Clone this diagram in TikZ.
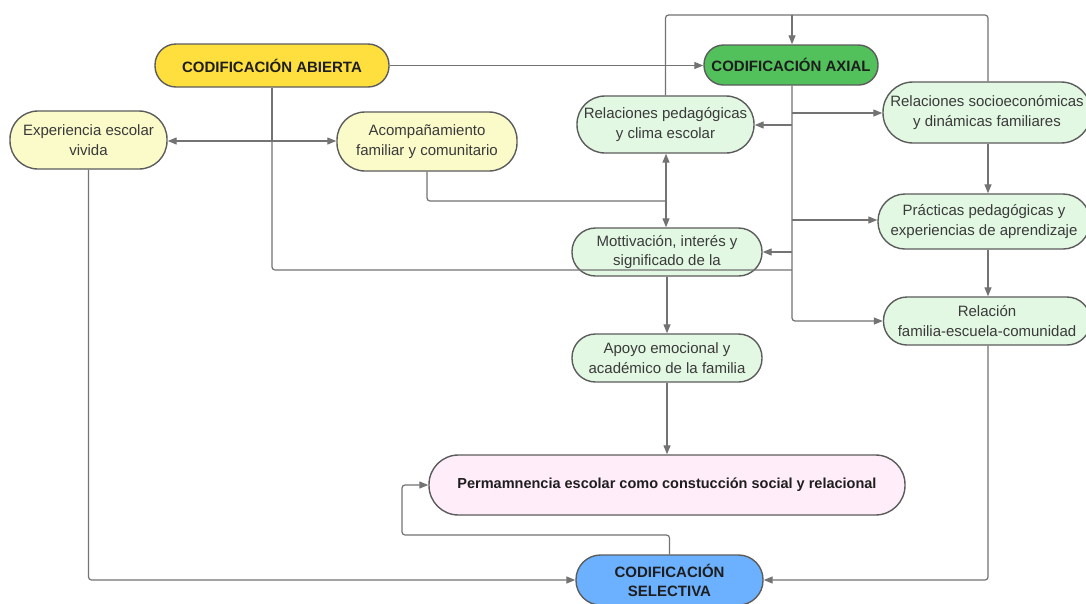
\documentclass[tikz,border=0pt]{standalone}
\usepackage{fontspec}
\setmainfont{Liberation Sans}
\usetikzlibrary{arrows.meta}
\definecolor{bord}{HTML}{5C5C5C}
\definecolor{lin}{HTML}{737373}
\definecolor{txt}{HTML}{3A3A3A}
\definecolor{txtb}{HTML}{1E1E1E}
\definecolor{cyel}{HTML}{FFDF3D}
\definecolor{cgrn}{HTML}{52C15B}
\definecolor{lyel}{HTML}{FBFAC9}
\definecolor{lgrn}{HTML}{E2F8E3}
\definecolor{cpink}{HTML}{FFEEFA}
\definecolor{cblu}{HTML}{6CB1FF}
\begin{document}
\begin{tikzpicture}[x=1pt,y=-1pt,
  pill/.style n args={3}{draw=bord, line width=1.4pt, rectangle, rounded corners=#3,
    minimum width=#1, minimum height=#2, inner sep=0pt, align=center,
    font=\fontsize{15}{19.5}\selectfont, text=txt},
  boldtxt/.style={font=\fontsize{15}{19}\selectfont\bfseries, text=txtb},
  con/.style={draw=lin, line width=1.2pt, rounded corners=3pt},
  arr/.style={con, -{Triangle[length=9pt,width=7pt]}}]
\useasboundingbox (0,0) rectangle (1086,603);
\fill[white] (0,0) rectangle (1086,603);

\node[pill={234pt}{43pt}{21pt}, boldtxt, fill=cyel] (ab) at (272,65.5) {CODIFICACIÓN ABIERTA};
\node[pill={174pt}{40pt}{19.5pt}, boldtxt, fill=cgrn] (ax) at (791,65) {CODIFICACIÓN AXIAL};
\node[pill={157pt}{58pt}{28pt}, fill=lyel] (exp) at (88.5,140) {Experiencia escolar\\vivida};
\node[pill={180pt}{59pt}{28pt}, fill=lyel] (aco) at (427,141.5) {Acompañamiento\\familiar y comunitario};
\node[pill={177pt}{57pt}{28pt}, fill=lgrn] (rp) at (665.5,124.5) {Relaciones pedagógicas\\y clima escolar};
\node[pill={208pt}{61pt}{30pt}, fill=lgrn] (rs) at (987,112.5) {Relaciones socioeconómicas\\y dinámicas familiares};
\node[pill={212pt}{55pt}{27pt}, fill=lgrn] (pr) at (984,221.5) {Prácticas pedagógicas y\\experiencias de aprendizaje};
\node[pill={190pt}{48pt}{23.5pt}, fill=lgrn] (mo) at (667,252) {Mottivación, interés y\\significado de la};
\node[pill={207pt}{48pt}{23.5pt}, fill=lgrn] (rf) at (987,321) {Relación\\familia-escuela-comunidad};
\node[pill={190pt}{48pt}{23.5pt}, fill=lgrn] (apo) at (667,358) {Apoyo emocional y\\académico de la familia};
\node[pill={476pt}{60pt}{29.5pt}, boldtxt, font=\fontsize{14.5}{19}\selectfont\bfseries, fill=cpink] (pe) at (667,485) {Permamnencia escolar como constucción social y relacional};
\node[pill={187pt}{50pt}{24.5pt}, boldtxt, fill=cblu] (sel) at (669.5,580) {CODIFICACIÓN\\SELECTIVA};

\coordinate (vx) at (792,0);
\coordinate (cx) at (988,0);
\coordinate (j1) at (272,141);
\coordinate (j2) at (272,270);
\coordinate (t) at (792,15);
\coordinate (b1) at (792,113);
\coordinate (b2) at (792,125);
\coordinate (b3) at (792,220);
\coordinate (b4) at (792,252);
\coordinate (k) at (666,201);
\coordinate (lp) at (402,535);

% abierta
\draw[arr] (ab.east) -- (ab.east -| ax.west);
\draw[con] (ab.south) -- (j1);
\draw[arr] (j1) -- (j1 -| exp.east);
\draw[arr] (j1) -- (j1 -| aco.west);
\draw[con] (j1) -- (j2) -- (j2 -| vx);

% axial trunk
\draw[arr] (ax.south -| vx) |- (rf.west);
\draw[arr] (b1) -- (b1 -| rs.west);
\draw[arr] (b2) -- (b2 -| rp.east);
\draw[arr] (b3) -- (b3 -| pr.west);
\draw[arr] (b4) -- (b4 -| mo.east);

% top loop
\draw[con] (rp.north) |- (t);
\draw[con] (rs.north -| cx) |- (t);
\draw[arr] (t) -- (ax.north -| vx);

% right column
\draw[arr] (rs.south -| cx) -- (pr.north -| cx);
\draw[arr] (pr.south -| cx) -- (rf.north -| cx);
\draw[arr] (rf.south -| cx) |- (sel.east);

% acompanamiento
\draw[con] (aco.south) |- (k);
\draw[arr] (k) -- (rp.south -| k);
\draw[arr] (k) -- (mo.north -| k);

% center column
\draw[arr] (mo.south) -- (apo.north);
\draw[arr] (apo.south) -- (pe.north);

% selectiva loop
\draw[arr] (sel.north) |- (lp) |- (pe.west);
\draw[arr] (exp.south) |- (sel.west);
\end{tikzpicture}
\end{document}
